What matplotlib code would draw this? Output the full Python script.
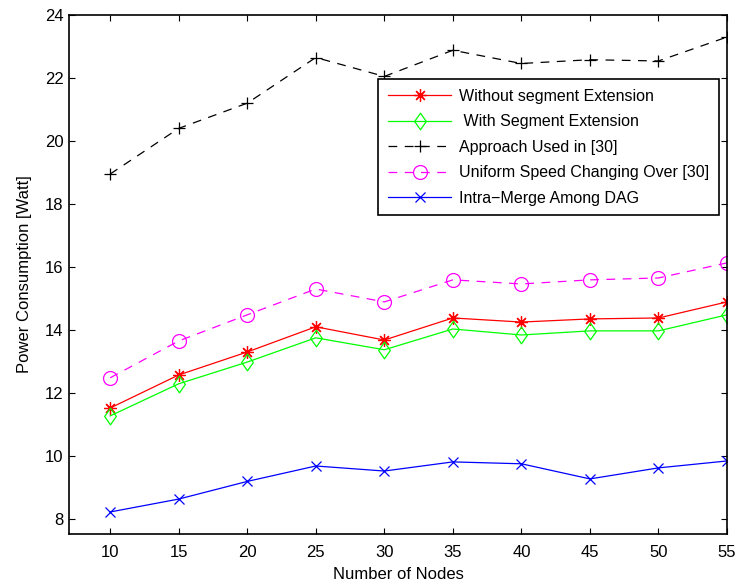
import matplotlib
matplotlib.use('Agg')
import matplotlib.pyplot as plt
from matplotlib.path import Path

plt.rcParams['font.family'] = ['Liberation Sans', 'DejaVu Sans']

nodes = [10, 15, 20, 25, 30, 35, 40, 45, 50, 55]
without_ext = [11.52, 12.57, 13.30, 14.10, 13.68, 14.38, 14.25, 14.35, 14.38, 14.89]
with_ext = [11.27, 12.29, 12.98, 13.75, 13.37, 14.03, 13.84, 13.97, 13.97, 14.48]
approach_30 = [18.95, 20.40, 21.20, 22.65, 22.05, 22.88, 22.46, 22.58, 22.54, 23.30]
uniform_speed = [12.48, 13.65, 14.48, 15.30, 14.89, 15.59, 15.46, 15.59, 15.65, 16.13]
intra_merge = [8.22, 8.63, 9.19, 9.68, 9.52, 9.81, 9.75, 9.27, 9.62, 9.84]

labels = ['Without segment Extension', ' With Segment Extension',
          'Approach Used in [30]', 'Uniform Speed Changing Over [30]',
          'Intra\u2212Merge Among DAG']

# matlab-ish diamond (a bit taller than wide)
diamond = Path([(-0.7, 0), (0, 1), (0.7, 0), (0, -1), (-0.7, 0)],
               [Path.MOVETO, Path.LINETO, Path.LINETO, Path.LINETO, Path.CLOSEPOLY])

fig = plt.figure(figsize=(7.39, 5.88), dpi=100)
ax = fig.add_axes([0.0934, 0.0918, 0.8904, 0.8827])

lw = 0.9
ax.plot(nodes, without_ext, color='red', marker=(8, 2, 0), ms=9, mew=0.9, lw=lw,
        label=labels[0])
ax.plot(nodes, with_ext, color='#00ff00', marker=diamond, ms=12, mfc='none', mew=0.9, lw=lw,
        label=labels[1])
ax.plot(nodes, approach_30, color='black', marker='+', ms=9, mew=0.9, lw=lw,
        dashes=(7, 6), label=labels[2])
ax.plot(nodes, uniform_speed, color='magenta', marker='o', ms=10, mfc='none', mew=0.9, lw=lw,
        dashes=(7, 6), label=labels[3])
ax.plot(nodes, intra_merge, color='blue', marker='x', ms=6.5, mew=0.9, lw=lw,
        label=labels[4])

ax.set_xlim(7, 55)
ax.set_ylim(7.52, 24)
ax.set_xticks(nodes)
ax.set_yticks(range(8, 25, 2))
ax.tick_params(direction='in', top=True, right=True, labelsize=12, length=4.5)
ax.tick_params(axis='x', pad=8)
ax.tick_params(axis='y', pad=4)
for s in ax.spines.values():
    s.set_linewidth(1.2)

ax.set_xlabel('Number of Nodes', fontsize=12, labelpad=5)
ax.set_ylabel('Power Consumption [Watt]', fontsize=12, labelpad=9)

leg = ax.legend(loc='upper left', bbox_to_anchor=(0.4696, 0.8767), borderaxespad=0,
                fontsize=11.5, fancybox=False, edgecolor='black', framealpha=1,
                handlelength=4.0, handletextpad=0.5, labelspacing=0.66, borderpad=0.6)
leg.get_frame().set_linewidth(1.2)

fig.savefig('out.png', dpi=100)
